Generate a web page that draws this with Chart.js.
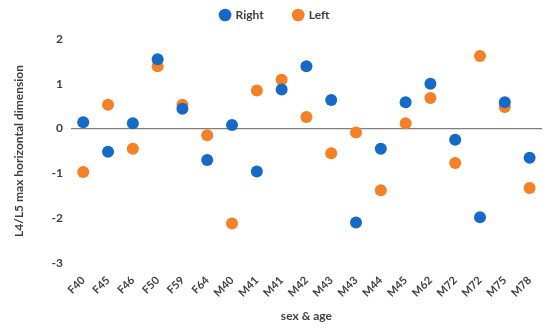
<!DOCTYPE html>
<html>
<head>
<meta charset="utf-8">
<script src="https://cdn.jsdelivr.net/npm/chart.js@4"></script>
<style>
  html, body { margin: 0; padding: 0; background: #fff; }
  #wrap { width: 550px; height: 331px; }
</style>
</head>
<body>
<div id="wrap"><canvas id="scatter1"></canvas></div>
<script>
const categories = ['F40', 'F45', 'F46', 'F50', 'F59', 'F64', 'M40', 'M41', 'M41', 'M42', 'M43', 'M43', 'M44', 'M45', 'M62', 'M72', 'M72', 'M75', 'M78']
const rightValues = [0.14, -0.52, 0.12, 1.55, 0.44, -0.7, 0.08, -0.96, 0.87, 1.39, 0.64, -2.1, -0.45, 0.59, 1.0, -0.25, -1.98, 0.59, -0.65]
const leftValues = [-0.97, 0.53, -0.45, 1.39, 0.53, -0.15, -2.12, 0.85, 1.09, 0.26, -0.55, -0.09, -1.38, 0.12, 0.68, -0.77, 1.62, 0.48, -1.33]
const yTicks = [2, 1, 0, -1, -2, -3]

const textColor = '#404040'
const fontFamily = "Lato, 'Open Sans', sans-serif"

const chartData = {
    labels: categories,
    datasets: [
        {
            label: 'Right',
            data: rightValues,
            backgroundColor: '#1569c7',
            borderColor: '#1569c7',
            pointRadius: 6,
            pointHoverRadius: 6,
            pointBorderWidth: 0,
            showLine: false,
        },
        {
            label: 'Left',
            data: leftValues,
            backgroundColor: '#f58025',
            borderColor: '#f58025',
            pointRadius: 6,
            pointHoverRadius: 6,
            pointBorderWidth: 0,
            showLine: false,
        },
    ],
}

// legend sits higher than chart.js would put it, so the fitted height is fixed by hand
const legendHeight = {
    id: 'legendHeight',
    beforeInit(chart) {
        const fit = chart.legend.fit
        chart.legend.fit = function () {
            fit.bind(chart.legend)()
            this.height = 60
        }
    },
}

const chartOptions = {
    responsive: true,
    maintainAspectRatio: false,
    animation: false,
    layout: { padding: { top: -21, right: 8, left: 8, bottom: 4 } },
    scales: {
        x: {
            offset: true,
            grid: { display: false },
            border: { display: false },
            ticks: {
                color: textColor,
                font: { family: fontFamily, size: 11, weight: 'bold' },
                minRotation: 45,
                maxRotation: 45,
                autoSkip: false,
                padding: 3,
            },
            title: {
                display: true,
                text: 'sex & age',
                color: textColor,
                font: { family: fontFamily, size: 12, weight: 'bold' },
                padding: { top: 6 },
            },
        },
        y: {
            min: Math.min(...yTicks),
            max: Math.max(...yTicks),
            afterBuildTicks: (axis) => {
                axis.ticks = yTicks.map(v => ({ value: v }))
            },
            border: { display: false },
            grid: {
                drawTicks: false,
                // only the zero line is drawn
                color: (ctx) => ctx.tick && ctx.tick.value === 0 ? '#7f7f7f' : 'rgba(0,0,0,0)',
                lineWidth: 1.2,
            },
            ticks: {
                color: textColor,
                font: { family: fontFamily, size: 12, weight: 'bold' },
                padding: 8,
            },
            title: {
                display: true,
                text: 'L4/L5 max horizontal dimension',
                color: textColor,
                font: { family: fontFamily, size: 12, weight: 'bold' },
                padding: { bottom: 17 },
            },
        },
    },
    plugins: {
        legend: {
            position: 'top',
            labels: {
                usePointStyle: true,
                pointStyle: 'circle',
                boxWidth: 9,
                boxHeight: 9,
                padding: 30,
                color: textColor,
                font: { family: fontFamily, size: 12, weight: 'bold' },
            },
        },
        tooltip: { enabled: false },
    },
}

const chart = new Chart(document.getElementById('scatter1'), {
    type: 'line',
    data: chartData,
    options: chartOptions,
    plugins: [legendHeight],
})
</script>
</body>
</html>
